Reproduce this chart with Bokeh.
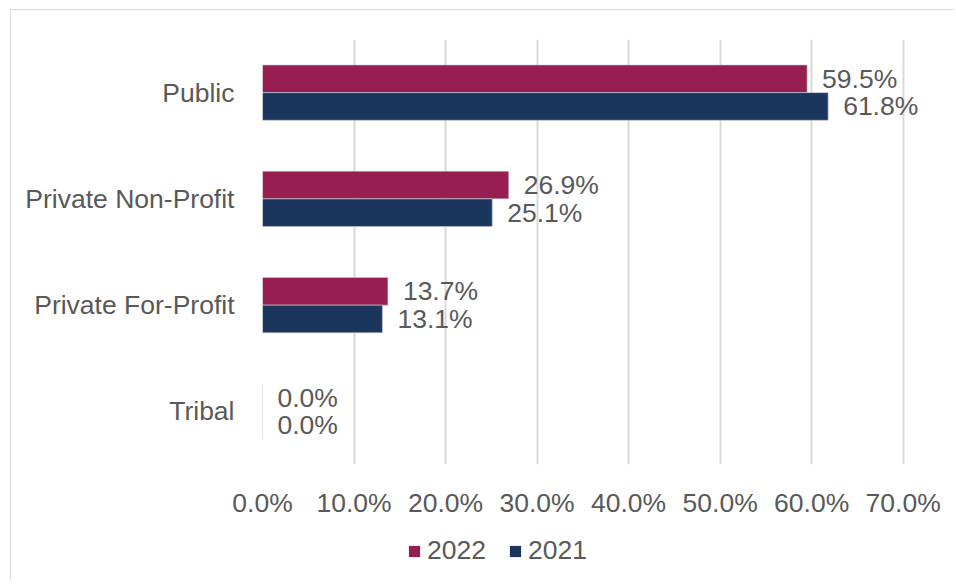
from bokeh.plotting import figure
from bokeh.layouts import column
from bokeh.models import FactorRange, Range1d, PrintfTickFormatter, Legend, LegendItem, ColumnDataSource
from bokeh.transform import dodge
from bokeh.core.properties import value
from bokeh.embed import file_html
from bokeh.resources import INLINE

categories = ["Public", "Private Non-Profit", "Private For-Profit", "Tribal"]
vals_2022 = [59.5, 26.9, 13.7, 0.0]
vals_2021 = [61.8, 25.1, 13.1, 0.0]
series = ["2022", "2021"]
x_ticks = [0, 10, 20, 30, 40, 50, 60, 70]

C22 = "#961E50"
C21 = "#1B365D"
TXT = "#595959"
FONT = "Liberation Sans"
FS = "26.5px"
BORDER = "1px solid #d9d9d9"

src = ColumnDataSource(dict(
    cat=categories,
    v22=vals_2022,
    v21=vals_2021,
    l22=[f"{v:.1f}%" for v in vals_2022],
    l21=[f"{v:.1f}%" for v in vals_2021],
))

p = figure(width=944, height=510, output_backend="svg", toolbar_location=None,
           y_range=FactorRange(factors=list(reversed(categories)), range_padding=0),
           x_range=Range1d(0, 72),
           min_border_left=251, min_border_right=34, min_border_top=29, min_border_bottom=53)

p.hbar(y=dodge("cat", 0.13, range=p.y_range), right="v22", left=0, height=0.26,
       source=src, fill_color=C22, line_color="#c9c4d4", line_width=0.6)
p.hbar(y=dodge("cat", -0.13, range=p.y_range), right="v21", left=0, height=0.26,
       source=src, fill_color=C21, line_color="#c9c4d4", line_width=0.6)

p.text(x="v22", y=dodge("cat", 0.13, range=p.y_range), text="l22", source=src,
       x_offset=15, text_baseline="middle", text_align="left",
       text_font=value(FONT), text_font_size=FS, text_color=TXT)
p.text(x="v21", y=dodge("cat", -0.13, range=p.y_range), text="l21", source=src,
       x_offset=15, text_baseline="middle", text_align="left",
       text_font=value(FONT), text_font_size=FS, text_color=TXT)

p.xaxis.ticker = x_ticks
p.xaxis.formatter = PrintfTickFormatter(format="%.1f%%")
for ax in (p.xaxis, p.yaxis):
    ax.axis_line_color = None
    ax.major_tick_line_color = None
    ax.minor_tick_line_color = None
    ax.major_label_text_font = FONT
    ax.major_label_text_font_size = FS
    ax.major_label_text_color = TXT
p.xaxis.major_label_standoff = 17
p.yaxis.major_label_standoff = 22

p.xgrid.grid_line_color = "#d9d9d9"
p.xgrid.grid_line_width = 2
p.ygrid.grid_line_color = None
p.outline_line_color = None
p.margin = (9, 0, 0, 10)
p.styles = {"border-top": BORDER, "border-left": BORDER}

# legend strip below the chart (its zero-height glyphs only feed the legend)
p2 = figure(width=944, height=60, output_backend="svg", toolbar_location=None,
            x_range=Range1d(0, 72), y_range=Range1d(1000, 1001),
            x_axis_location=None, y_axis_location=None,
            min_border_left=0, min_border_right=0, min_border_top=0, min_border_bottom=0)
p2.grid.grid_line_color = None
p2.outline_line_color = None
g22 = p2.hbar(y="v22", right="v22", left=0, height=0, source=src,
              fill_color=C22, line_color=None)
g21 = p2.hbar(y="v21", right="v21", left=0, height=0, source=src,
              fill_color=C21, line_color=None)
legend = Legend(items=[LegendItem(label=series[0], renderers=[g22]),
                       LegendItem(label=series[1], renderers=[g21])],
                orientation="horizontal", location=(145, 13),
                glyph_width=14, glyph_height=14, label_standoff=6, spacing=22,
                padding=0, margin=0, border_line_color=None, background_fill_alpha=0,
                label_text_font=FONT, label_text_font_size=FS, label_text_color=TXT)
p2.add_layout(legend, "center")
p2.margin = (0, 0, 0, 10)
p2.styles = {"border-left": BORDER}

layout = column(p, p2, spacing=0)
open("out.html", "w").write(file_html(layout, INLINE))
